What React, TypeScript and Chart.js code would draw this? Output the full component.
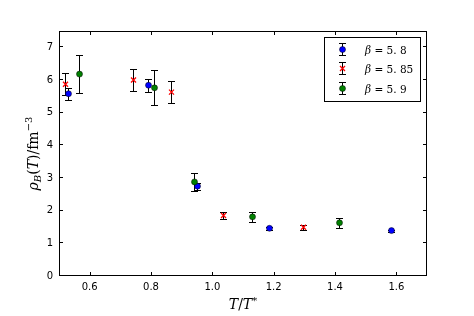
import React, { useEffect, useRef } from "react";
import { Chart, registerables } from "chart.js";

Chart.register(...registerables);

const blueX = [0.528, 0.791, 0.949, 1.186, 1.581];
const blueY = [5.58, 5.84, 2.75, 1.46, 1.39];
const blueErr = [0.19, 0.2, 0.11, 0.04, 0.03];

const redX = [0.518, 0.741, 0.864, 1.036, 1.295];
const redY = [5.87, 6.0, 5.63, 1.85, 1.49];
const redErr = [0.34, 0.35, 0.33, 0.11, 0.08];

const greenX = [0.566, 0.809, 0.941, 1.13, 1.413];
const greenY = [6.18, 5.76, 2.88, 1.81, 1.63];
const greenErr = [0.57, 0.54, 0.28, 0.16, 0.15];

const seriesLabels = ["5.8", "5.85", "5.9"];
const xTicks = [0.6, 0.8, 1.0, 1.2, 1.4, 1.6];
const yTicks = [0, 1, 2, 3, 4, 5, 6, 7];

const W = 474;
const H = 316;
const PLOT = { left: 59, right: 427, top: 31, bottom: 276 };

const mathFont = (size: number, italic: boolean) =>
  `${italic ? "italic " : ""}${size}px "DejaVu Serif", serif`;

function drawErrorBar(ctx: CanvasRenderingContext2D, x: number, y1: number, y2: number) {
  const cap = 3.5;
  ctx.beginPath();
  ctx.moveTo(x, y1);
  ctx.lineTo(x, y2);
  ctx.moveTo(x - cap, y1);
  ctx.lineTo(x + cap, y1);
  ctx.moveTo(x - cap, y2);
  ctx.lineTo(x + cap, y2);
  ctx.stroke();
}

function drawMarker(ctx: CanvasRenderingContext2D, x: number, y: number, kind: string) {
  if (kind === "cross") {
    ctx.strokeStyle = "#ff0000";
    ctx.lineWidth = 1.3;
    const r = 2.5;
    ctx.beginPath();
    ctx.moveTo(x - r, y - r);
    ctx.lineTo(x + r, y + r);
    ctx.moveTo(x - r, y + r);
    ctx.lineTo(x + r, y - r);
    ctx.stroke();
  } else {
    ctx.fillStyle = kind;
    ctx.strokeStyle = "#000";
    ctx.lineWidth = 0.5;
    ctx.beginPath();
    ctx.arc(x, y, 3, 0, Math.PI * 2);
    ctx.fill();
    ctx.stroke();
  }
}

function drawPieces(ctx: CanvasRenderingContext2D, pieces: [string, string, number][], x: number, y: number) {
  let cx = x;
  for (const [t, f, dy] of pieces) {
    ctx.font = f;
    ctx.fillText(t, cx, y + dy);
    cx += ctx.measureText(t).width;
  }
}
function measurePieces(ctx: CanvasRenderingContext2D, pieces: [string, string, number][]) {
  let w = 0;
  for (const [t, f] of pieces) {
    ctx.font = f;
    w += ctx.measureText(t).width;
  }
  return w;
}

const markerKinds = ["#0000ff", "cross", "#008000"];

const errorPlugin = {
  id: "errbars",
  beforeDatasetsDraw(chart: any) {
    const ctx = chart.ctx;
    const xs = chart.scales.x;
    const ys = chart.scales.y;
    ctx.save();
    ctx.strokeStyle = "#000";
    ctx.lineWidth = 1;
    chart.data.datasets.forEach((ds: any) => {
      ds.data.forEach((p: any, i: number) => {
        const e = ds.err[i];
        const px = Math.round(xs.getPixelForValue(p.x)) + 0.5;
        drawErrorBar(ctx, px, Math.round(ys.getPixelForValue(p.y + e)) + 0.5, Math.round(ys.getPixelForValue(p.y - e)) + 0.5);
      });
    });
    ctx.restore();
  },
  afterDraw(chart: any) {
    const ctx = chart.ctx;
    const xs = chart.scales.x;
    const ys = chart.scales.y;
    const ca = chart.chartArea;
    ctx.save();
    ctx.strokeStyle = "#000";
    ctx.lineWidth = 1;
    ctx.strokeRect(ca.left + 0.5, ca.top + 0.5, ca.right - ca.left - 1, ca.bottom - ca.top - 1);
    const tl = 4;
    ctx.beginPath();
    xTicks.forEach((v) => {
      const px = Math.round(xs.getPixelForValue(v)) + 0.5;
      ctx.moveTo(px, ca.bottom);
      ctx.lineTo(px, ca.bottom - tl);
      ctx.moveTo(px, ca.top);
      ctx.lineTo(px, ca.top + tl);
    });
    yTicks.forEach((v) => {
      const py = Math.round(ys.getPixelForValue(v)) - 0.5;
      ctx.moveTo(ca.left, py);
      ctx.lineTo(ca.left + tl, py);
      ctx.moveTo(ca.right, py);
      ctx.lineTo(ca.right - tl, py);
    });
    ctx.stroke();

    // legend
    const lx = 324, ly = 37, lw = 96, lh = 64;
    ctx.fillStyle = "#fff";
    ctx.fillRect(lx, ly, lw, lh);
    ctx.strokeStyle = "#000";
    ctx.strokeRect(lx + 0.5, ly + 0.5, lw, lh);
    const rows = [49.5, 68.5, 88.5];
    seriesLabels.forEach((lab, i) => {
      const sx = 342.5;
      const sy = rows[i];
      ctx.strokeStyle = "#000";
      ctx.lineWidth = 1;
      drawErrorBar(ctx, sx, sy - 6, sy + 6);
      drawMarker(ctx, sx, sy, markerKinds[i]);
      ctx.fillStyle = "#000";
      ctx.textBaseline = "alphabetic";
      ctx.textAlign = "left";
      const parts = lab.split(".");
      drawPieces(
        ctx,
        [
          ["β", mathFont(10.5, true), 0],
          [" = ", mathFont(10.5, false), 0],
          [parts[0] + ". " + parts[1], mathFont(10.5, false), 0],
        ],
        365,
        sy + 4
      );
    });

    ctx.fillStyle = "#000";
    ctx.textAlign = "left";
    ctx.textBaseline = "alphabetic";
    const xp: [string, string, number][] = [
      ["T", mathFont(14, true), 0],
      ["/", mathFont(14, false), 0],
      ["T", mathFont(14, true), 0],
      ["*", mathFont(10, false), -5],
    ];
    const xw = measurePieces(ctx, xp);
    drawPieces(ctx, xp, (ca.left + ca.right) / 2 - xw / 2, 309);

    const yp: [string, string, number][] = [
      ["ρ", mathFont(14, true), 0],
      ["B", mathFont(10, true), 3],
      ["(", mathFont(14, false), 0],
      ["T", mathFont(14, true), 0],
      [")", mathFont(14, false), 0],
      ["/", mathFont(14, false), 0],
      ["fm", mathFont(14, false), 0],
      ["−3", mathFont(10, false), -6],
    ];
    const yw = measurePieces(ctx, yp);
    ctx.translate(38, (ca.top + ca.bottom) / 2);
    ctx.rotate(-Math.PI / 2);
    drawPieces(ctx, yp, -yw / 2, 0);
    ctx.restore();
  },
};

const markerPlugin = {
  id: "markers",
  afterDatasetsDraw(chart: any) {
    const ctx = chart.ctx;
    const xs = chart.scales.x;
    const ys = chart.scales.y;
    ctx.save();
    chart.data.datasets.forEach((ds: any, di: number) => {
      ds.data.forEach((p: any) => {
        drawMarker(ctx, Math.round(xs.getPixelForValue(p.x)) + 0.5, ys.getPixelForValue(p.y), markerKinds[di]);
      });
    });
    ctx.restore();
  },
};

export default function App() {
  const ref = useRef<HTMLCanvasElement>(null);
  useEffect(() => {
    document.body.style.margin = "0";
    const mk = (xs: number[], ys: number[]) => xs.map((x, i) => ({ x, y: ys[i] }));
    const chart = new Chart(ref.current!, {
      type: "scatter",
      data: {
        datasets: [
          { label: "β=5.8", data: mk(blueX, blueY), err: blueErr, pointRadius: 0 } as any,
          { label: "β=5.85", data: mk(redX, redY), err: redErr, pointRadius: 0 } as any,
          { label: "β=5.9", data: mk(greenX, greenY), err: greenErr, pointRadius: 0 } as any,
        ],
      },
      options: {
        animation: false,
        responsive: false,
        devicePixelRatio: 1,
        layout: { padding: { top: PLOT.top, right: W - PLOT.right, left: 0, bottom: 0 } },
        plugins: { legend: { display: false }, tooltip: { enabled: false } },
        scales: {
          x: {
            type: "linear",
            min: 0.5,
            max: 1.7,
            afterBuildTicks: (s: any) => {
              s.ticks = xTicks.map((v) => ({ value: v }));
            },
            afterFit: (s: any) => {
              s.height = H - PLOT.bottom;
            },
            grid: { display: false, drawTicks: false },
            border: { display: false },
            ticks: {
              color: "#000",
              font: { family: "DejaVu Sans", size: 10 },
              padding: 5,
              maxRotation: 0,
              callback: (v: any) => Number(v).toFixed(1),
            },
          },
          y: {
            type: "linear",
            min: 0,
            max: 7.5,
            afterBuildTicks: (s: any) => {
              s.ticks = yTicks.map((v) => ({ value: v }));
            },
            afterFit: (s: any) => {
              s.width = PLOT.left;
            },
            grid: { display: false, drawTicks: false },
            border: { display: false },
            ticks: {
              color: "#000",
              font: { family: "DejaVu Sans", size: 10 },
              padding: 6,
              callback: (v: any) => String(v),
            },
          },
        },
      },
      plugins: [errorPlugin, markerPlugin],
    });
    return () => chart.destroy();
  }, []);
  return (
    <div style={{ position: "absolute", left: 0, top: 0, width: W, height: H, background: "#fff" }}>
      <canvas ref={ref} width={W} height={H} style={{ width: W, height: H }} />
    </div>
  );
}
